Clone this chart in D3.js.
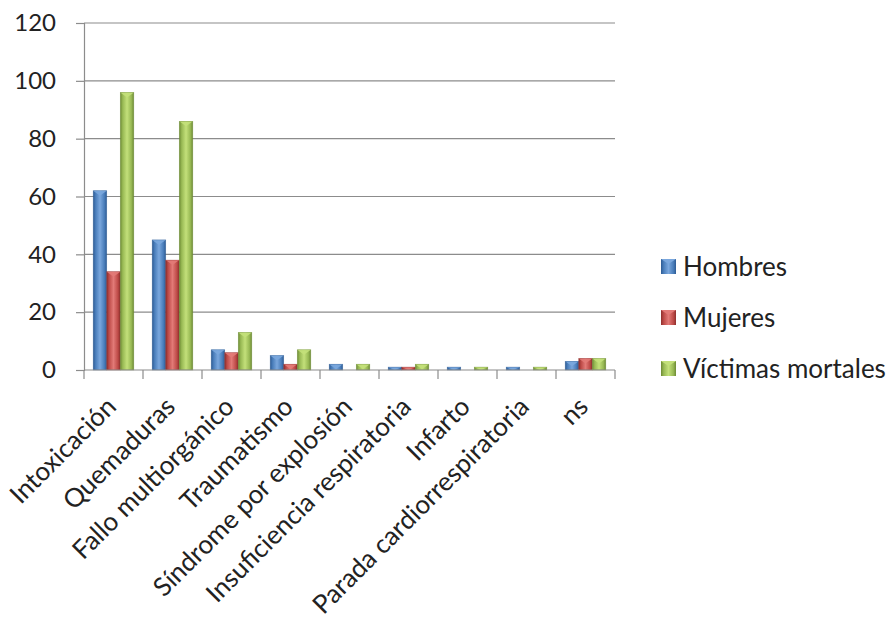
<!DOCTYPE html>
<html><head><meta charset="utf-8">
<script src="https://cdn.jsdelivr.net/npm/d3@7"></script>
<style>
body{margin:0;background:#fff;}
svg{display:block;font-family:Lato,"Liberation Sans",sans-serif;}
</style></head>
<body><svg id="c" width="892" height="618"></svg>
<script>
const categories = ["Intoxicación","Quemaduras","Fallo multiorgánico","Traumatismo","Síndrome por explosión","Insuficiencia respiratoria","Infarto","Parada cardiorrespiratoria","ns"];
const seriesNames = ["Hombres","Mujeres","Víctimas mortales"];
const hombres = [62,45,7,5,2,1,1,1,3];
const mujeres = [34,38,6,2,0,1,0,0,4];
const victimas = [96,86,13,7,2,2,1,1,4];
const yTicks = [0,20,40,60,80,100,120];

const seriesValues = [hombres, mujeres, victimas];
const colors = [
  {base:"#4a7ebb", dark:"#2d5b94", light:"#7aa7dd"},
  {base:"#be4b48", dark:"#8e2f2d", light:"#e27a77"},
  {base:"#98b954", dark:"#6d8a34", light:"#c3e07a"}
];

const svg = d3.select("#c");
const mLeft = 84, mRight = 615, mTop = 23, mBottom = 370;

const y = d3.scaleLinear().domain([0,120]).range([mBottom, mTop]);
const x0 = d3.scaleBand().domain(categories).range([mLeft, mRight]).padding(0);
const x1 = d3.scaleBand().domain(seriesNames).range([0, x0.bandwidth()]).paddingInner(0).paddingOuter(0.68);

const defs = svg.append("defs");
colors.forEach((c,i)=>{
  const g = defs.append("linearGradient").attr("id","g"+i).attr("x1","0").attr("x2","1").attr("y1","0").attr("y2","0");
  g.append("stop").attr("offset","0").attr("stop-color",c.dark);
  g.append("stop").attr("offset","0.18").attr("stop-color",c.base);
  g.append("stop").attr("offset","0.5").attr("stop-color",c.light);
  g.append("stop").attr("offset","0.82").attr("stop-color",c.base);
  g.append("stop").attr("offset","1").attr("stop-color",c.dark);
});

// gridlines
svg.append("g").selectAll("line").data(yTicks.filter(t=>t>0)).join("line")
  .attr("x1",mLeft).attr("x2",mRight).attr("y1",d=>y(d)).attr("y2",d=>y(d))
  .attr("stroke","#8c8c8c").attr("stroke-width",1.2);

// y axis
const yAxis = svg.append("g").attr("transform",`translate(${mLeft},0)`)
  .call(d3.axisLeft(y).tickValues(yTicks).tickSize(8).tickPadding(20));
yAxis.select(".domain").attr("stroke","#8c8c8c").attr("stroke-width",1.2);
yAxis.selectAll(".tick line").attr("stroke","#8c8c8c").attr("stroke-width",1.2);
yAxis.selectAll(".tick text").attr("font-size",24).attr("fill","#222").attr("font-family","Lato,'Liberation Sans',sans-serif");

// bars
const groups = svg.append("g").selectAll("g").data(categories).join("g")
  .attr("transform",d=>`translate(${x0(d)},0)`);
groups.each(function(cat, ci){
  const g = d3.select(this);
  seriesNames.forEach((s, si)=>{
    const v = seriesValues[si][ci];
    if (v <= 0) return;
    const bx = x1(s), bw = x1.bandwidth(), by = y(v), bh = y(0)-y(v);
    g.append("rect").attr("x",bx).attr("y",by).attr("width",bw).attr("height",bh)
      .attr("fill",`url(#g${si})`);
    const tri = Math.min(5, bh);
    g.append("path")
      .attr("d",`M${bx},${by}L${bx+bw},${by}L${bx+bw/2},${by+tri}Z`)
      .attr("fill",colors[si].light).attr("opacity",0.9);
    g.append("rect").attr("x",bx).attr("y",by).attr("width",bw).attr("height",bh)
      .attr("fill","none").attr("stroke",colors[si].dark).attr("stroke-width",0.6).attr("opacity",0.6);
  });
});

// x axis
const xAxis = svg.append("g").attr("transform",`translate(0,${mBottom})`);
xAxis.append("line").attr("x1",mLeft).attr("x2",mRight).attr("stroke","#8c8c8c").attr("stroke-width",1.2);
const tickPos = categories.map(c=>x0(c)).concat([mRight]);
xAxis.selectAll("line.t").data(tickPos).join("line").attr("class","t")
  .attr("x1",d=>d).attr("x2",d=>d).attr("y1",0).attr("y2",9)
  .attr("stroke","#8c8c8c").attr("stroke-width",1.2);

svg.append("g").selectAll("text").data(categories).join("text")
  .attr("transform",d=>`translate(${x0(d)+x0.bandwidth()/2-9},${mBottom+25}) rotate(-45)`)
  .attr("text-anchor","end").attr("dy","0.72em")
  .attr("font-size",26).attr("fill","#222")
  .text(d=>d);

// legend
const lg = svg.append("g").selectAll("g").data(seriesNames).join("g")
  .attr("transform",(d,i)=>`translate(661,${259 + i*51})`);
lg.append("rect").attr("width",15).attr("height",15).attr("fill",(d,i)=>`url(#g${i})`);
lg.append("path").attr("d","M0,0L15,0L7.5,5Z").attr("fill",(d,i)=>colors[i].light);
lg.append("text").attr("x",22).attr("y",8).attr("dy","0.36em")
  .attr("font-size",26).attr("fill","#222").text(d=>d);
</script></body></html>
